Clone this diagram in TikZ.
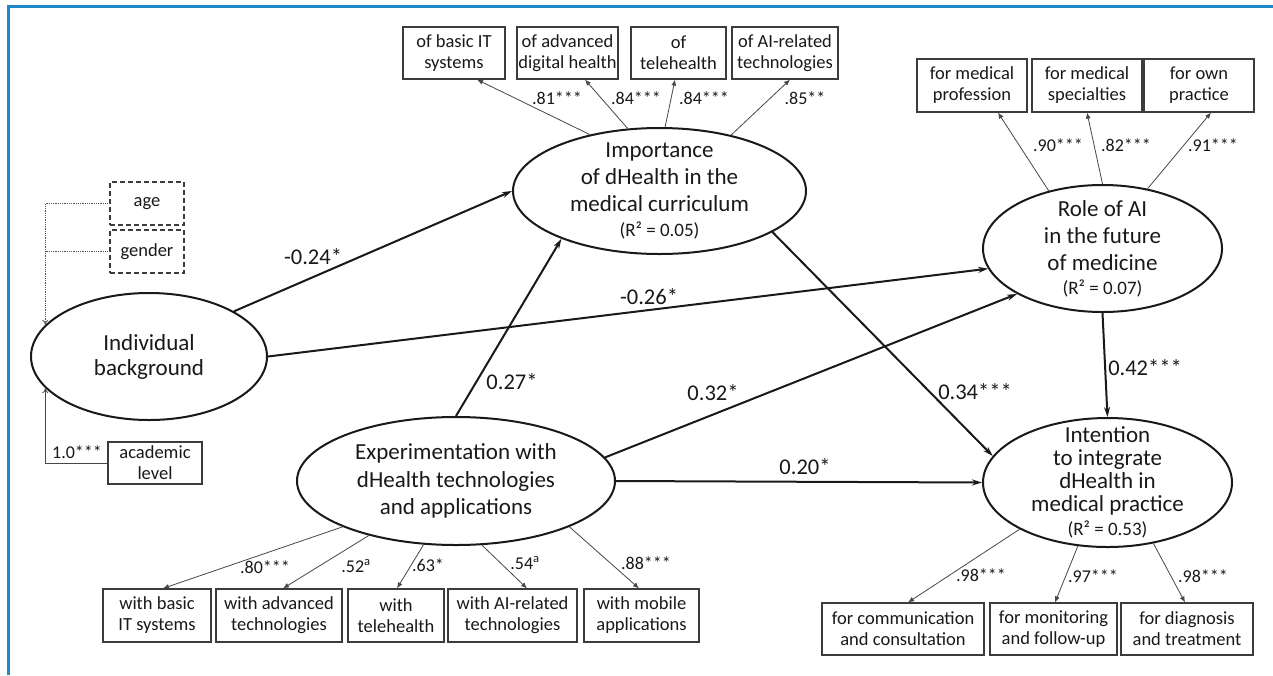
\documentclass[tikz,border=0pt]{standalone}
\usepackage{fontspec}
\setmainfont{Carlito}
\usetikzlibrary{arrows.meta,positioning,shapes.geometric,calc}
\definecolor{frameblue}{RGB}{30,136,200}
\definecolor{ink}{RGB}{25,25,25}
\newcommand{\rsqfont}{\fontsize{19}{22}\selectfont}

\begin{document}
\begin{tikzpicture}[x=1pt,y=-1pt,
  latent/.style={ellipse,draw=ink,line width=2pt,inner sep=0pt},
  ltext/.style={align=center,text=ink,font=\fontsize{23}{27}\selectfont},
  obs/.style={draw=ink!85,line width=1.2pt,align=center,minimum height=52pt,inner sep=0pt,text=ink,font=\fontsize{18.5}{21}\selectfont},
  ctrl/.style={obs,dash pattern=on 5pt off 3pt,minimum height=43pt,minimum width=74pt},
  reg/.style={line width=2pt,draw=ink,-{Stealth[length=10pt,width=6pt]}},
  load/.style={line width=0.8pt,draw=ink!80,-{Latex[length=6pt,width=5pt]}},
  lab/.style={text=ink,font=\fontsize{18}{20}\selectfont},
  coef/.style={text=ink,font=\fontsize{22.5}{26}\selectfont}]
\useasboundingbox (0,0) rectangle (1273,675);
\fill[white] (0,0) rectangle (1273,675);
\draw[frameblue,line width=3pt] (8.5,675) -- (8.5,6) -- (1273,6);

% latent variables
\node[latent,minimum width=293pt,minimum height=126pt] (imp) at (659.5,191) {};
\node[ltext] (impt) at (imp) {Importance\\of dHealth in the\\medical curriculum\\[-2pt]{\rsqfont (R² = 0.05)}};
\node[latent,minimum width=239pt,minimum height=127pt] (ai) at (1102.5,248.5) {};
\node[ltext] (ait) at (ai) {Role of AI\\in the future\\of medicine\\[-3pt]{\rsqfont (R² = 0.07)}};
\node[latent,minimum width=236pt,minimum height=127pt] (ind) at (149,356.5) {};
\node[ltext,font=\fontsize{23}{25}\selectfont] (indt) at (ind) {Individual\\background};
\node[latent,minimum width=318pt,minimum height=128pt] (exp) at (456,481) {};
\node[ltext,font=\fontsize{23}{27.5}\selectfont] (expt) at (exp) {Experimentation with\\dHealth technologies\\and applications};
\node[latent,minimum width=249pt,minimum height=129pt] (int) at (1107.5,482.5) {};
\node[ltext,font=\fontsize{23}{23}\selectfont] (intt) at (int) {Intention\\to integrate\\dHealth in\\medical practice\\[1pt]{\rsqfont (R² = 0.53)}};

% indicators
\foreach \n/\x/\w/\t in {ib1/454/102/{of basic IT\\systems},ib2/567.5/101/{of advanced\\digital health},
    ib3/678.5/95/{of\\telehealth},ib4/785/106/{of AI-related\\technologies}}
  \node[obs,minimum width=\w pt] (\n) at (\x,53) {\t};
\foreach \n/\x/\t in {ab1/972/{for medical\\profession},ab2/1087/{for medical\\specialties},ab3/1199/{for own\\practice}}
  \node[obs,minimum width=110pt,minimum height=53pt] (\n) at (\x,85.5) {\t};
\foreach \n/\x/\w/\t in {eb1/157/108/{with basic\\IT systems},eb2/279/126/{with advanced\\technologies},
    eb3/396/96/{with\\telehealth},eb4/512.5/129/{with AI-related\\technologies},eb5/641.5/115/{with mobile\\applications}}
  \node[obs,minimum width=\w pt,minimum height=53pt] (\n) at (\x,615.5) {\t};
\foreach \n/\x/\w/\t in {nb1/903/162/{for communication\\and consultation},nb2/1053.5/127/{for monitoring\\and follow-up},
    nb3/1187/132/{for diagnosis\\and treatment}}
  \node[obs,minimum width=\w pt] (\n) at (\x,629) {\t};
\node[ctrl] (age) at (147,203.5) {age};
\node[ctrl] (gender) at (147,251.5) {gender};
\node[obs,minimum width=94pt,minimum height=42pt] (acad) at (155,463) {academic\\level};

% loadings
\foreach \n/\a/\dx/\lx/\v in {ib1/141/23/557/{.81***},ib2/117/17.5/636/{.84***},ib3/85/-3.5/704/{.84***},ib4/38/5/805/{.85**}}{
  \draw[load] (imp.\a) -- ($(\n.south)+(\dx,0)$);
  \node[lab] (l\n) at (\lx,98) {\v};}
\foreach \n/\a/\dx/\lx/\v in {ab1/133/26/1058/{.90***},ab2/90/0/1126/{.82***},ab3/53/12/1213/{.91***}}{
  \draw[load] (ai.\a) -- ($(\n.south)+(\dx,0)$);
  \node[lab] (l\n) at (\lx,145) {\v};}
\foreach \n/\a/\dx/\lx/\ly/\v in {eb1/202/6/265/567/{.80***},eb2/212/4/356/566/{.52\textsuperscript{a}},
    eb3/243/1/428/565/{.63*},eb4/292/14.5/525/563/{.54\textsuperscript{a}},eb5/338/-2.5/646/563/{.88***}}{
  \draw[load] (exp.\a) -- ($(\n.north)+(\dx,0)$);
  \node[lab] (l\n) at (\lx,\ly) {\v};}
\foreach \n/\a/\dx/\lx/\ly/\v in {nb1/208/5/981/575/{.98***},nb2/245/1.5/1093/576/{.97***},nb3/307/-2/1203/576/{.98***}}{
  \draw[load] (int.\a) -- ($(\n.north)+(\dx,0)$);
  \node[lab] (l\n) at (\lx,\ly) {\v};}

% background indicators
\draw[densely dotted,line width=0.8pt,ink!75,-{To[length=5pt,width=6pt]}] (age.west) -| (ind.163);
\draw[densely dotted,line width=0.8pt,ink!75] (gender.west) -- (gender.west -| ind.163);
\draw[line width=0.8pt,ink!80,-{To[length=5pt,width=6pt]}] (acad.west) -| (ind.197);
\node[lab] (lacad) at (77,452) {1.0***};

% structural paths
\draw[reg] (ind.28) -- (imp.180);
\draw[reg] (ind.east) -- (ai.190);
\draw[reg] (exp.north) -- (imp.206);
\draw[reg] (exp.9) -- (ai.208);
\draw[reg] (exp.east) -- (int.west);
\draw[reg] (imp.340) -- (int.167);
\draw[reg] (ai.south) -- (int.north);
\foreach \n/\x/\y/\v in {p1/313/257/{-0.24*},p2/649/297/{-0.26*},p3/512/382/{0.27*},p4/713/393/{0.32*},
    p5/805/467/{0.20*},p6/975/392/{0.34***},p7/1145/368/{0.42***}}
  \node[coef] (\n) at (\x,\y) {\v};
\end{tikzpicture}
\end{document}
